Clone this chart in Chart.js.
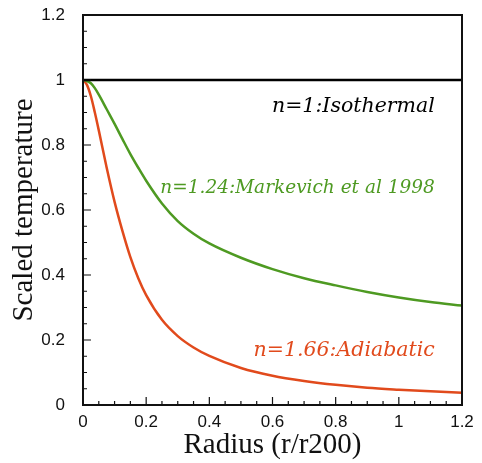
<!DOCTYPE html>
<html>
<head>
<meta charset="utf-8">
<script src="https://cdn.jsdelivr.net/npm/chart.js@4/dist/chart.umd.min.js"></script>
<style>
  html, body { margin: 0; padding: 0; background: #fff; }
  canvas { display: block; }
</style>
</head>
<body>
<canvas id="tempChart" width="482" height="463"></canvas>
<script>
// Radius in units of r200
const radius = [0, 0.0125, 0.025, 0.0375, 0.05, 0.075, 0.1, 0.125, 0.15, 0.175, 0.2, 0.25, 0.3, 0.35, 0.4, 0.5, 0.6, 0.7, 0.8, 0.9, 1.0, 1.1, 1.2];

// Scaled temperature for each polytropic index
const isothermal = [1, 1, 1, 1, 1, 1, 1, 1, 1, 1, 1, 1, 1, 1, 1, 1, 1, 1, 1, 1, 1, 1, 1];
const markevich  = [1, 0.997, 0.99, 0.975, 0.955, 0.91, 0.865, 0.818, 0.772, 0.73, 0.69, 0.62, 0.566, 0.527, 0.497, 0.453, 0.418, 0.39, 0.368, 0.348, 0.331, 0.317, 0.306];
const adiabatic  = [1, 0.985, 0.95, 0.9, 0.845, 0.73, 0.625, 0.535, 0.455, 0.39, 0.338, 0.262, 0.212, 0.177, 0.151, 0.114, 0.09, 0.074, 0.062, 0.053, 0.047, 0.042, 0.038];

const xTicks = [0, 0.2, 0.4, 0.6, 0.8, 1, 1.2];
const xTickLabels = ['0', '0.2', '0.4', '0.6', '0.8', '1', '1.2'];
const yTicks = [0, 0.2, 0.4, 0.6, 0.8, 1, 1.2];
const yTickLabels = ['0', '0.2', '0.4', '0.6', '0.8', '1', '1.2'];

const seriesNames = ['n=1:Isothermal', 'n=1.24:Markevich et al 1998', 'n=1.66:Adiabatic'];

const GREEN = '#4e9a22';
const RED = '#e14a1c';

function toPoints(ys) {
    return radius.map((r, i) => ({ x: r, y: ys[i] }));
}

// curve labels, anchored in data coordinates (right aligned)
const curveLabels = [
    { text: seriesNames[0], x: 1.114, y: 0.902, color: '#000', size: 20.5 },
    { text: seriesNames[1], x: 1.114, y: 0.652, color: GREEN, size: 18.5 },
    { text: seriesNames[2], x: 1.114, y: 0.152, color: RED, size: 20.5 }
];

// frame, inward tick marks and curve labels
const framePlugin = {
    id: 'frame',
    afterDatasetsDraw(chart) {
        const { ctx, chartArea: a, scales: { x, y } } = chart;
        ctx.save();
        ctx.strokeStyle = '#111';
        ctx.lineWidth = 1.2;
        ctx.beginPath();
        // minor ticks every 0.05, major every 0.2
        for (let k = 0; k <= 24; k++) {
            const v = k * 0.05;
            const len = (k % 4 === 0) ? 8 : 4;
            const px = x.getPixelForValue(v);
            ctx.moveTo(px, a.bottom);
            ctx.lineTo(px, a.bottom - len);
            const py = y.getPixelForValue(v);
            ctx.moveTo(a.left, py);
            ctx.lineTo(a.left + len, py);
        }
        ctx.stroke();

        ctx.lineWidth = 2;
        ctx.strokeRect(a.left, a.top, a.right - a.left, a.bottom - a.top);

        ctx.textAlign = 'right';
        ctx.textBaseline = 'alphabetic';
        curveLabels.forEach(l => {
            ctx.font = 'italic ' + l.size + 'px "DejaVu Serif"';
            ctx.fillStyle = l.color;
            ctx.fillText(l.text, x.getPixelForValue(l.x), y.getPixelForValue(l.y));
        });
        ctx.restore();
    }
};

const chart = new Chart(document.getElementById('tempChart'), {
    type: 'line',
    data: {
        datasets: [
            {
                label: seriesNames[0],
                data: toPoints(isothermal),
                borderColor: '#000',
                borderWidth: 2.5
            },
            {
                label: seriesNames[1],
                data: toPoints(markevich),
                borderColor: GREEN,
                borderWidth: 2.5,
                cubicInterpolationMode: 'monotone'
            },
            {
                label: seriesNames[2],
                data: toPoints(adiabatic),
                borderColor: RED,
                borderWidth: 2.5,
                cubicInterpolationMode: 'monotone'
            }
        ]
    },
    options: {
        responsive: false,
        animation: false,
        events: [],
        layout: { padding: { top: 15, right: 20, bottom: 0, left: 0 } },
        elements: { point: { radius: 0 } },
        plugins: {
            legend: { display: false },
            tooltip: { enabled: false }
        },
        scales: {
            x: {
                type: 'linear',
                min: 0,
                max: 1.2,
                afterBuildTicks: s => { s.ticks = xTicks.map(v => ({ value: v })); },
                afterFit: s => { s.height = 58; s.paddingLeft = 0; s.paddingRight = 0; },
                border: { display: false },
                grid: { display: false, drawTicks: false },
                ticks: {
                    padding: 7,
                    color: '#111',
                    maxRotation: 0,
                    font: { family: '"Liberation Sans", Arial, sans-serif', size: 17 },
                    callback: (v, i) => xTickLabels[i]
                },
                title: {
                    display: true,
                    text: 'Radius (r/r200)',
                    color: '#111',
                    padding: { top: 0, bottom: 0 },
                    font: { family: '"Liberation Serif", "Times New Roman", serif', size: 29 }
                }
            },
            y: {
                type: 'linear',
                min: 0,
                max: 1.2,
                afterBuildTicks: s => { s.ticks = yTicks.map(v => ({ value: v })); },
                afterFit: s => { s.width = 83; s.paddingTop = 0; s.paddingBottom = 0; },
                border: { display: false },
                grid: { display: false, drawTicks: false },
                ticks: {
                    padding: 18,
                    color: '#111',
                    font: { family: '"Liberation Sans", Arial, sans-serif', size: 17 },
                    callback: (v, i) => yTickLabels[i]
                },
                title: {
                    display: true,
                    text: 'Scaled temperature',
                    color: '#111',
                    padding: { top: 7, bottom: 0 },
                    font: { family: '"Liberation Serif", "Times New Roman", serif', size: 29 }
                }
            }
        }
    },
    plugins: [framePlugin]
});
</script>
</body>
</html>
